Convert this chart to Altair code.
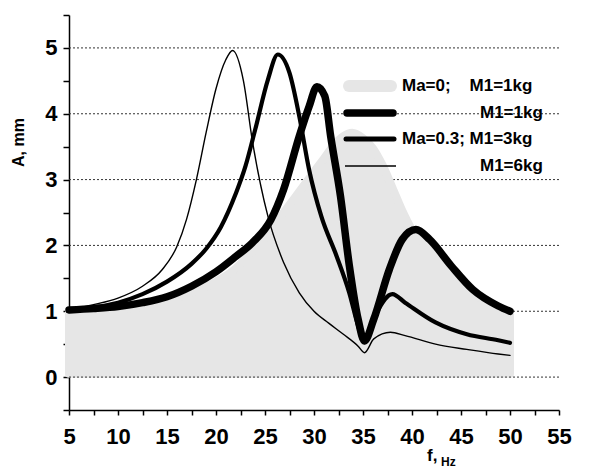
import altair as alt
import pandas as pd

FONT = "Liberation Sans"

# Grey filled curve: Ma=0; M1=1kg
grey_f = [5, 10, 15, 20, 22, 23, 24, 25, 26, 27, 28, 29, 30, 31, 32, 33, 33.9, 35, 36, 37, 38, 39, 40, 41, 42, 44, 46, 48, 50]
grey_a = [0.98, 1.02, 1.15, 1.45, 1.65, 1.8, 1.95, 2.12, 2.32, 2.52, 2.72, 2.92, 3.12, 3.32, 3.52, 3.66, 3.71, 3.63, 3.48, 3.22, 2.88, 2.53, 2.24, 2.07, 1.9, 1.6, 1.3, 1.1, 0.96]

# Thick black: M1=1kg
thick_f = [5, 7.5, 10, 12.5, 15, 17.5, 20, 22, 23.7, 25.6, 26.9, 28.5, 29.5, 30.3, 31.1, 31.7, 32.7, 33.6, 34.5, 35.15, 36.1, 37.7, 39, 40.4, 41.8, 44, 46.2, 48.8, 50]
thick_a = [1.02, 1.04, 1.07, 1.13, 1.22, 1.38, 1.6, 1.83, 2.04, 2.39, 2.85, 3.66, 4.11, 4.41, 4.27, 3.66, 2.75, 1.7, 0.88, 0.55, 0.88, 1.64, 2.09, 2.24, 2.09, 1.69, 1.33, 1.08, 1.0]

# Medium black: Ma=0.3; M1=3kg
med_f = [5, 7.5, 10, 12.5, 15, 17.5, 19, 20.5, 22, 23, 24, 25.3, 26.3, 27.5, 28.5, 29.5, 30.75, 32.3, 33.6, 34.5, 35.15, 36.4, 38, 39.3, 42.4, 45.6, 48.8, 50]
med_a = [1.02, 1.06, 1.13, 1.26, 1.45, 1.72, 1.95, 2.28, 2.78, 3.2, 3.76, 4.52, 4.9, 4.62, 3.96, 3.15, 2.44, 1.84, 1.28, 0.78, 0.53, 0.98, 1.26, 1.13, 0.83, 0.65, 0.56, 0.52]

# Thin black: M1=6kg
thin_f = [5, 7.5, 10, 12.5, 14.5, 16, 17, 18, 19, 20, 21, 21.7, 22.8, 23.7, 25.3, 26.9, 28.5, 30, 31.5, 33, 34.5, 35.15, 36.1, 37.8, 39.3, 42.4, 45.6, 48.8, 50]
thin_a = [1.02, 1.1, 1.2, 1.38, 1.63, 1.98, 2.4, 3.0, 3.72, 4.38, 4.82, 4.96, 4.5, 3.6, 2.44, 1.74, 1.28, 1.0, 0.82, 0.65, 0.47, 0.37, 0.58, 0.68, 0.63, 0.5, 0.42, 0.35, 0.33]

x_ticks = [5 + 2.5 * i for i in range(21)]
y_ticks = [-0.5 + 0.5 * i for i in range(13)]
grid_levels = [1, 2, 3, 4, 5]
zero_level = [0]

legend_labels = ["Ma=0;\u00a0\u00a0\u00a0\u00a0M1=1kg", "M1=1kg", "Ma=0.3; M1=3kg", "M1=6kg"]
legend_text_x = [333, 411, 333, 411]
legend_row_y = [71, 98, 124, 151]

W, H = 490, 395

X = alt.X(
    "f:Q",
    scale=alt.Scale(domain=[5, 55], nice=False, zero=False),
    axis=alt.Axis(
        values=x_ticks,
        labelExpr="datum.value % 5 == 0 ? format(datum.value, 'd') : ''",
        labelOverlap=False, labelFlush=False,
        title=None, grid=False,
        domainColor="black", domainWidth=1.5,
        tickColor="black", tickWidth=1.5, tickSize=5,
        labelFont=FONT, labelFontSize=22, labelFontWeight="bold", labelColor="black",
        labelPadding=11,
    ),
)
Y = alt.Y(
    "a:Q",
    scale=alt.Scale(domain=[-0.5, 5.5], nice=False, zero=False),
    axis=alt.Axis(
        values=y_ticks,
        labelExpr="datum.value % 1 == 0 ? format(datum.value, 'd') : ''",
        labelOverlap=False, labelFlush=False,
        title="A, mm", titleFont=FONT, titleFontSize=16, titleFontWeight="bold", titleColor="black",
        titleX=-51, titleY=127, titleAngle=-90, titleAlign="center", titleBaseline="middle",
        grid=False,
        domainColor="black", domainWidth=1.5,
        tickColor="black", tickWidth=1.5, tickSize=6,
        labelFont=FONT, labelFontSize=22, labelFontWeight="bold", labelColor="black",
        labelPadding=6,
    ),
)

def df_of(fs, ys):
    return pd.DataFrame({"f": fs, "a": ys})

grid = alt.Chart(pd.DataFrame({"a": grid_levels})).mark_rule(
    color="#333333", strokeWidth=1, strokeDash=[2, 2]
).encode(y=Y)

grid0 = alt.Chart(pd.DataFrame({"a": zero_level})).mark_rule(
    color="#333333", strokeWidth=1, strokeDash=[2, 2]
).encode(y=Y)

grey = alt.Chart(df_of(grey_f, grey_a)).mark_area(
    color="#e6e6e6", stroke="#e6e6e6", strokeWidth=8, strokeJoin="round", interpolate="monotone"
).encode(x=X, y=Y, y2=alt.datum(0.05))

def curve(fs, ys, w):
    return alt.Chart(df_of(fs, ys)).mark_line(
        color="black", strokeWidth=w, strokeCap="round", strokeJoin="round", interpolate="monotone"
    ).encode(x=X, y=Y)

thin = curve(thin_f, thin_a, 1.4)
med = curve(med_f, med_a, 4.2)
thick = curve(thick_f, thick_a, 7.5)

# legend symbols
def leg_rule(x1, x2, yy, w, col, cap):
    return alt.Chart(pd.DataFrame({"k": [0]})).mark_rule(
        color=col, strokeWidth=w, strokeCap=cap
    ).encode(x=alt.value(x1), x2=alt.value(x2), y=alt.value(yy))

leg_syms = [
    leg_rule(280, 322, legend_row_y[0], 12, "#e6e6e6", "round"),
    leg_rule(278, 324, legend_row_y[1], 7.5, "black", "round"),
    leg_rule(277, 325, legend_row_y[2], 5, "black", "round"),
    leg_rule(276, 327, legend_row_y[3], 1.4, "black", "butt"),
]

leg_text = alt.Chart(pd.DataFrame({"px": legend_text_x, "py": legend_row_y, "t": legend_labels})).mark_text(
    font=FONT, fontSize=17, fontWeight="bold", color="black", align="left", baseline="middle"
).encode(x=alt.X("px:Q", scale=None), y=alt.Y("py:Q", scale=None), text="t:N")

xt1 = alt.Chart(pd.DataFrame({"t": ["f,"]})).mark_text(
    font=FONT, fontSize=17, fontWeight="bold", color="black", align="left", baseline="alphabetic"
).encode(x=alt.value(358), y=alt.value(446), text="t:N")
xt2 = alt.Chart(pd.DataFrame({"t": ["Hz"]})).mark_text(
    font=FONT, fontSize=12, fontWeight="bold", color="black", align="left", baseline="alphabetic"
).encode(x=alt.value(372), y=alt.value(451), text="t:N")

chart = alt.layer(
    grid, grey, grid0, thin, med, thick, *leg_syms, leg_text, xt1, xt2
).properties(
    width=W, height=H,
    autosize=alt.AutoSizeParams(type="none"),
    padding={"left": 61, "top": 7, "right": 30, "bottom": 60},
    background="white",
).configure_view(stroke=None)

chart.save("out.html", embed_options={"renderer": "svg", "actions": False})
